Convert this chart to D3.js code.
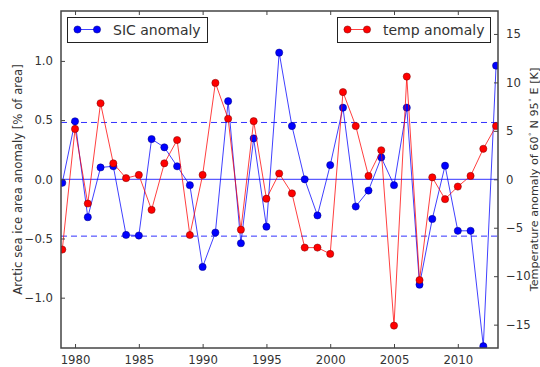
<!DOCTYPE html>
<html>
<head>
<meta charset="utf-8">
<script src="https://cdn.jsdelivr.net/npm/d3@7"></script>
<style>
  html, body { margin: 0; padding: 0; background: #fff; }
  svg { display: block; font-family: "DejaVu Sans", sans-serif; }
</style>
</head>
<body>
<svg id="chart" width="540" height="367"></svg>
<script>
// Annual anomalies, 1979-2013
const years = d3.range(1979, 2014);
const sicAnomaly = [
  -0.03, 0.49, -0.32, 0.10, 0.11, -0.47, -0.475, 0.34, 0.27, 0.11,
  -0.05, -0.74, -0.45, 0.66, -0.54, 0.345, -0.40, 1.07, 0.45, 0.00,
  -0.305, 0.12, 0.605, -0.23, -0.095, 0.185, -0.05, 0.605, -0.89, -0.335,
  0.115, -0.435, -0.435, -1.41, 0.96
];
const tempAnomaly = [
  -7.25, 5.2, -2.5, 7.85, 1.65, 0.12, 0.45, -3.15, 1.65, 4.05,
  -5.75, 0.45, 9.95, 6.25, -5.2, 6.0, -2.0, 0.6, -1.45, -7.05,
  -7.05, -7.7, 9.0, 5.5, 0.35, 3.0, -15.1, 10.6, -10.4, 0.2,
  -2.05, -0.75, 0.35, 3.15, 5.5
];
const sicStd = 0.48;
const xTicks = [1980, 1985, 1990, 1995, 2000, 2005, 2010];
const sicTicks = [-1.0, -0.5, 0.0, 0.5, 1.0];
const tempTicks = [-15, -10, -5, 0, 5, 10, 15];

const svg = d3.select("#chart");
const plot = { left: 61, right: 498, top: 11, bottom: 348 };

const x = d3.scaleLinear().domain([1978.9, 2013.15]).range([plot.left, plot.right]);
const ySic = d3.scaleLinear().domain([-1.425, 1.425]).range([plot.bottom, plot.top - 0.4]);
const yTemp = d3.scaleLinear().domain([-17.41, 17.41]).range([plot.bottom, plot.top - 0.4]);

const axisColor = "#444";
const textColor = "#333";
const blue = "#0000ff", red = "#ff0000";

svg.append("defs").append("clipPath").attr("id", "plotClip")
  .append("rect")
  .attr("x", plot.left).attr("y", plot.top)
  .attr("width", plot.right - plot.left).attr("height", plot.bottom - plot.top);

const g = svg.append("g").attr("clip-path", "url(#plotClip)");

// Zero line and +/- one standard deviation
g.append("line")
  .attr("x1", plot.left).attr("x2", plot.right)
  .attr("y1", ySic(0)).attr("y2", ySic(0))
  .attr("stroke", blue).attr("stroke-width", 1).attr("opacity", 0.8);
[sicStd, -sicStd].forEach(v => {
  g.append("line")
    .attr("x1", plot.left).attr("x2", plot.right)
    .attr("y1", ySic(v)).attr("y2", ySic(v))
    .attr("stroke", blue).attr("stroke-width", 1).attr("opacity", 0.8)
    .attr("stroke-dasharray", "6,4");
});

function drawSeries(values, yScale, color, edge) {
  const pts = years.map((yr, i) => [yr, values[i]]);
  g.append("path")
    .datum(pts)
    .attr("fill", "none")
    .attr("stroke", color)
    .attr("stroke-opacity", 0.75)
    .attr("stroke-width", 1)
    .attr("d", d3.line().x(d => x(d[0])).y(d => yScale(d[1])));
  g.selectAll(null)
    .data(pts)
    .enter().append("circle")
    .attr("cx", d => x(d[0]))
    .attr("cy", d => yScale(d[1]))
    .attr("r", 3.6)
    .attr("fill", color)
    .attr("stroke", edge)
    .attr("stroke-width", 0.5);
}

drawSeries(sicAnomaly, ySic, blue, "#000080");
drawSeries(tempAnomaly, yTemp, red, "#7a0000");

// Axes (ticks point inward)
const fontSize = 11.7;
function styleAxis(sel) {
  sel.select(".domain").remove();
  sel.selectAll(".tick line").attr("stroke", axisColor).attr("stroke-width", 1);
  sel.selectAll(".tick text").attr("fill", textColor).attr("font-size", fontSize)
    .attr("font-family", "DejaVu Sans, sans-serif");
}

const fmt1 = d => (d < 0 ? "\u2212" : "") + Math.abs(d).toFixed(1);
const fmt0 = d => (d < 0 ? "\u2212" : "") + Math.abs(d);

svg.append("g").attr("transform", `translate(0,${plot.bottom})`)
  .call(d3.axisBottom(x).tickValues(xTicks).tickFormat(d3.format("d")).tickSizeInner(-4).tickPadding(8))
  .call(styleAxis);
svg.append("g").attr("transform", `translate(0,${plot.top})`)
  .call(d3.axisTop(x).tickValues(xTicks).tickFormat("").tickSizeInner(-4))
  .call(styleAxis);
svg.append("g").attr("transform", `translate(${plot.left},0)`)
  .call(d3.axisLeft(ySic).tickValues(sicTicks).tickFormat(fmt1).tickSizeInner(-4).tickPadding(8))
  .call(styleAxis);
svg.append("g").attr("transform", `translate(${plot.right},0)`)
  .call(d3.axisRight(yTemp).tickValues(tempTicks).tickFormat(fmt0).tickSizeInner(-4).tickPadding(8))
  .call(styleAxis);

// Frame
svg.append("rect")
  .attr("x", plot.left).attr("y", plot.top)
  .attr("width", plot.right - plot.left).attr("height", plot.bottom - plot.top)
  .attr("fill", "none").attr("stroke", axisColor).attr("stroke-width", 1.5);

// Axis titles
svg.append("text")
  .attr("transform", `translate(18,${(plot.top + plot.bottom) / 2}) rotate(-90)`)
  .attr("text-anchor", "middle").attr("dominant-baseline", "central")
  .attr("font-size", fontSize).attr("fill", textColor)
  .text("Arctic sea ice area anomaly [% of area]");

const rt = svg.append("text")
  .attr("transform", `translate(534,${(plot.top + plot.bottom) / 2}) rotate(-90)`)
  .attr("text-anchor", "middle").attr("dominant-baseline", "central")
  .attr("font-size", 11.2).attr("fill", textColor);
rt.append("tspan").text("Temperature anomaly of 60");
rt.append("tspan").attr("font-size", 7).attr("dy", -4).text("\u2218");
rt.append("tspan").attr("dy", 4).text(" N 95");
rt.append("tspan").attr("font-size", 7).attr("dy", -4).text("\u2218");
rt.append("tspan").attr("dy", 4).text(" E [K]");

// Legends
function legend(x0, x1, label, color, edge) {
  const lg = svg.append("g");
  lg.append("rect")
    .attr("x", x0).attr("y", 17.5).attr("width", x1 - x0).attr("height", 25)
    .attr("fill", "#fff").attr("stroke", "#222").attr("stroke-width", 1);
  lg.append("line")
    .attr("x1", x0 + 10).attr("x2", x0 + 29.5).attr("y1", 29.5).attr("y2", 29.5)
    .attr("stroke", color).attr("stroke-opacity", 0.75).attr("stroke-width", 1);
  [x0 + 10, x0 + 29.5].forEach(cx => {
    lg.append("circle").attr("cx", cx).attr("cy", 29.5).attr("r", 3.6)
      .attr("fill", color).attr("stroke", edge).attr("stroke-width", 0.5);
  });
  lg.append("text")
    .attr("x", x0 + 45.5).attr("y", 30)
    .attr("dominant-baseline", "central")
    .attr("font-size", 14).attr("fill", textColor)
    .text(label);
}
legend(67.5, 207.5, "SIC anomaly", blue, "#000080");
legend(337.5, 490.5, "temp anomaly", red, "#7a0000");
</script>
</body>
</html>
